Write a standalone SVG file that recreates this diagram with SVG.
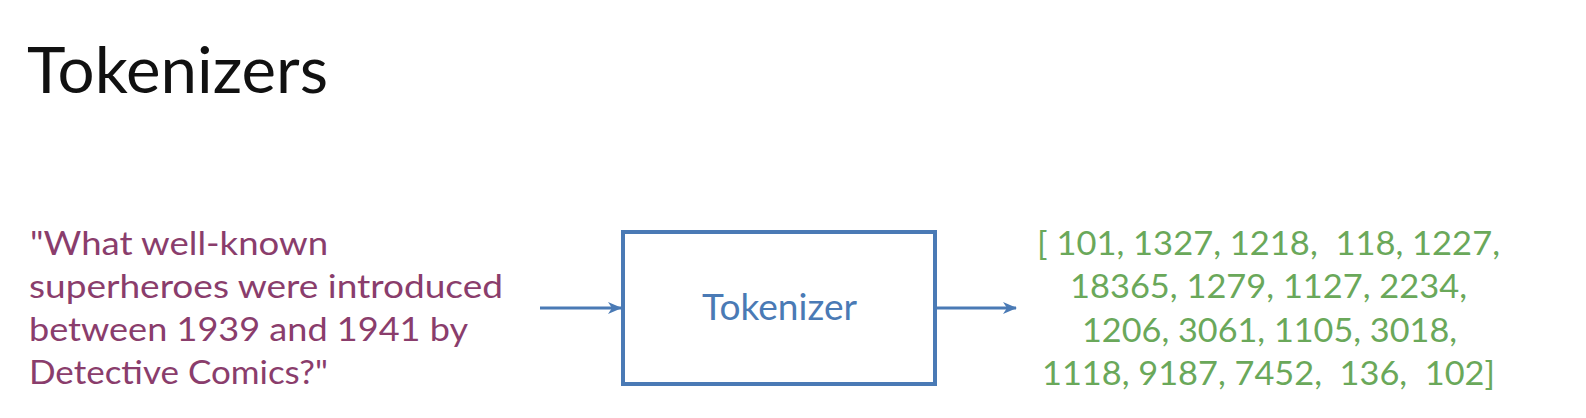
<svg xmlns="http://www.w3.org/2000/svg" width="1586" height="418" viewBox="0 0 1586 418">
<style>
.title{font-family:Lato,"Liberation Sans",sans-serif;font-size:64px;fill:#111}
.q{font-family:Lato,"Liberation Sans",sans-serif;font-size:32px;fill:#8a3d6c}
.ids{font-family:Lato,"Liberation Sans",sans-serif;font-size:32px;fill:#6aa85a}
.lbl{font-family:Lato,"Liberation Sans",sans-serif;font-size:37px;fill:#4a7ab5}
.box{fill:none;stroke:#4a7ab5;stroke-width:4}
.conn{stroke:#4a7ab5;stroke-width:3;fill:none}
</style>
<defs>
<marker id="ah" markerWidth="14" markerHeight="12" refX="13" refY="6" orient="auto" markerUnits="userSpaceOnUse">
<path d="M0,0 L14,6 L0,12 L4,6 Z" fill="#4a7ab5"/>
</marker>
</defs>
<rect width="1586" height="418" fill="#fff"/>
<text class="title" x="27" y="93" textLength="301" lengthAdjust="spacingAndGlyphs">Tokenizers</text>
<g id="question">
<text class="q" x="30" y="255" textLength="298" lengthAdjust="spacingAndGlyphs">"What well-known</text>
<text class="q" x="29" y="298" textLength="474" lengthAdjust="spacingAndGlyphs">superheroes were introduced</text>
<text class="q" x="29" y="341" textLength="439" lengthAdjust="spacingAndGlyphs">between 1939 and 1941 by</text>
<text class="q" x="29" y="384" textLength="299" lengthAdjust="spacingAndGlyphs">Detective Comics?"</text>
</g>
<g id="tokenizer">
<rect class="box" x="623" y="232" width="312" height="152"/>
<text class="lbl" x="702" y="320" textLength="155" lengthAdjust="spacingAndGlyphs">Tokenizer</text>
</g>
<g id="ids">
<text class="ids" x="1037" y="255" xml:space="preserve" textLength="463" lengthAdjust="spacingAndGlyphs">[ 101, 1327, 1218,  118, 1227,</text>
<text class="ids" x="1070" y="298" textLength="397" lengthAdjust="spacingAndGlyphs">18365, 1279, 1127, 2234,</text>
<text class="ids" x="1082" y="342" textLength="375" lengthAdjust="spacingAndGlyphs">1206, 3061, 1105, 3018,</text>
<text class="ids" x="1042" y="385" xml:space="preserve" textLength="453" lengthAdjust="spacingAndGlyphs">1118, 9187, 7452,  136,  102]</text>
</g>
<g id="connectors">
<line class="conn" x1="540" y1="308" x2="621" y2="308" marker-end="url(#ah)"/>
<line class="conn" x1="937" y1="308" x2="1016" y2="308" marker-end="url(#ah)"/>
</g>
</svg>
